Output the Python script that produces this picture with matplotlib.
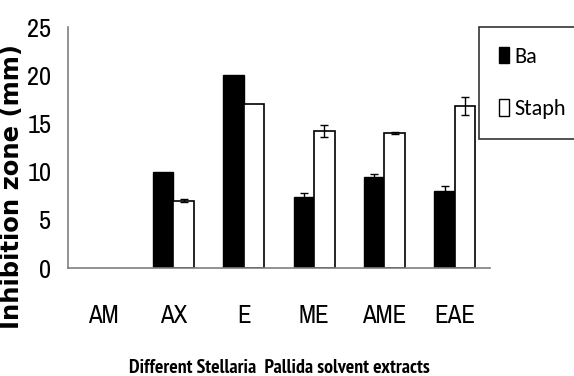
import numpy as np
import matplotlib
matplotlib.use("Agg")
import matplotlib.pyplot as plt
from matplotlib.patches import Patch

extracts = ["AM", "AX", "E", "ME", "AME", "EAE"]
ba = [0, 10.0, 20.0, 7.4, 9.4, 8.0]
ba_err = [0, 0, 0, 0.35, 0.35, 0.55]
staph = [0, 7.0, 17.0, 14.2, 14.0, 16.8]
staph_err = [0, 0.15, 0, 0.65, 0.1, 0.9]

narrow = ["Archivo Narrow", "Liberation Sans Narrow", "DejaVu Sans"]
calib = ["Carlito", "DejaVu Sans"]
ptn = ["PT Sans Narrow", "Carlito", "DejaVu Sans"]

fig = plt.figure(figsize=(5.74, 3.76), dpi=100)
ax = fig.add_axes([0.1185, 0.287, 0.735, 0.641])

x = np.arange(len(extracts))
w = 0.29
ax.bar(x - w / 2, ba, w, color="black", edgecolor="black",
       linewidth=[1 if v > 0 else 0 for v in ba])
ax.bar(x + w / 2, staph, w, color="white", edgecolor="black",
       linewidth=[1.2 if v > 0 else 0 for v in staph])

# error bars only where a spread was given
for off, vals, errs in [(-w / 2, ba, ba_err), (w / 2, staph, staph_err)]:
    keep = [i for i in range(len(errs)) if errs[i] > 0]
    ax.errorbar(x[keep] + off, np.array(vals)[keep], yerr=np.array(errs)[keep],
                fmt="none", ecolor="black", elinewidth=1, capsize=3, capthick=1)

ax.set_xlim(-0.5, len(extracts) - 0.5)
ax.set_ylim(0, 25)
ax.set_yticks([0, 5, 10, 15, 20, 25])
ax.set_xticks(x)
ax.set_xticklabels(extracts, family=narrow, fontsize=18)
for lab in ax.get_yticklabels():
    lab.set_family(narrow)
    lab.set_fontsize(19)
ax.tick_params(axis="y", length=0, pad=12)
ax.tick_params(axis="x", length=0, pad=26)

for s in ["top", "right"]:
    ax.spines[s].set_visible(False)
for s in ["left", "bottom"]:
    ax.spines[s].set_color("#7f7f7f")
    ax.spines[s].set_linewidth(1.2)

ax.set_ylabel("Inhibition zone (mm)", fontsize=17.5, fontweight="bold",
              family="DejaVu Sans")
ax.yaxis.set_label_coords(-0.104, 0.34)
fig.text(0.487, 0.008, "Different Stellaria  Pallida solvent extracts",
         ha="center", va="baseline", fontsize=14.3, fontweight="bold", family=ptn)

handles = [Patch(facecolor="black", edgecolor="black", linewidth=1),
           Patch(facecolor="white", edgecolor="black", linewidth=1)]
leg = fig.legend(handles, ["Ba", "Staph"], loc="upper left", bbox_to_anchor=(0.835, 0.928),
                 prop={"family": calib, "size": 16},
                 frameon=True, fancybox=False, edgecolor="black", handlelength=0.45,
                 handleheight=0.75, handletextpad=0.25, labelspacing=1.45,
                 borderpad=0.9, borderaxespad=0)
leg.get_frame().set_linewidth(1.2)

fig.savefig("out.png", dpi=100)
